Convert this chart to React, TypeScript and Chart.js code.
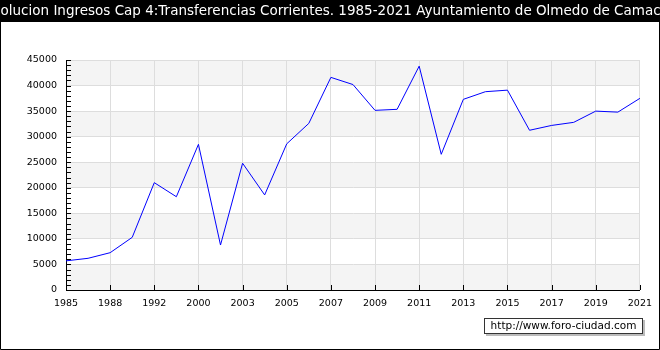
import React, { useEffect, useRef } from "react";
import { Chart, registerables } from "chart.js";

Chart.register(...registerables);

const titleText =
  "Evolucion Ingresos Cap 4:Transferencias Corrientes. 1985-2021 Ayuntamiento de Olmedo de Camaces";
const watermarkText = "http://www.foro-ciudad.com";

const years = [
  "1985", "1987", "1988", "1990", "1992", "1996", "2000", "2002", "2003",
  "2004", "2005", "2006", "2007", "2008", "2009", "2010", "2011", "2012",
  "2013", "2014", "2015", "2016", "2017", "2018", "2019", "2020", "2021",
];

const ingresos = [
  5700, 6200, 7300, 10300, 21000, 18250, 28500, 8800, 24800,
  18600, 28600, 32600, 41600, 40200, 35150, 35350, 43800, 26550,
  37300, 38800, 39100, 31250, 32200, 32800, 35000, 34800, 37500,
];

const yTicks = [0, 5000, 10000, 15000, 20000, 25000, 30000, 35000, 40000, 45000];

const FONT = "'DejaVu Sans', Verdana, sans-serif";

const decorPlugin = {
  id: "decor",
  beforeDraw(chart: any) {
    const { ctx, chartArea } = chart;
    const y = chart.scales.y;
    ctx.save();
    ctx.fillStyle = "#ffffff";
    ctx.fillRect(0, 0, chart.width, chart.height);
    // alternate bands
    for (let i = 0; i < yTicks.length - 1; i++) {
      if (i % 2 === 0) {
        const top = y.getPixelForValue(yTicks[i + 1]);
        const bot = y.getPixelForValue(yTicks[i]);
        ctx.fillStyle = "#f4f4f4";
        ctx.fillRect(chartArea.left, top, chartArea.right - chartArea.left, bot - top);
      }
    }
    ctx.restore();
  },
  afterDraw(chart: any) {
    const { ctx, chartArea } = chart;
    const x = chart.scales.x;
    const y = chart.scales.y;
    ctx.save();
    // minor ticks on y axis (inward)
    ctx.strokeStyle = "#000000";
    ctx.lineWidth = 1;
    ctx.beginPath();
    for (let v = 0; v <= 45000; v += 1000) {
      const py = Math.round(y.getPixelForValue(v)) + 0.5;
      ctx.moveTo(chartArea.left, py);
      ctx.lineTo(chartArea.left + 5, py);
    }
    // x ticks (inward)
    for (let i = 0; i < years.length; i += 2) {
      const px = Math.round(x.getPixelForValue(i)) + 0.5;
      ctx.moveTo(px, chartArea.bottom);
      ctx.lineTo(px, chartArea.bottom - 5);
    }
    ctx.stroke();

    // title bar
    ctx.fillStyle = "#000000";
    ctx.fillRect(0, 0, chart.width, 22);
    ctx.fillStyle = "#ffffff";
    ctx.font = `13.5px ${FONT}`;
    ctx.textAlign = "center";
    ctx.textBaseline = "middle";
    ctx.fillText(titleText, chart.width / 2, 11.5);

    // frame
    ctx.strokeStyle = "#000000";
    ctx.lineWidth = 1;
    ctx.beginPath();
    ctx.moveTo(0.5, 22);
    ctx.lineTo(0.5, chart.height - 0.5);
    ctx.lineTo(chart.width - 0.5, chart.height - 0.5);
    ctx.lineTo(chart.width - 0.5, 22);
    ctx.stroke();

    // watermark box
    const bx = 484, by = 318, bw = 159, bh = 16;
    ctx.fillStyle = "#bbbbbb";
    ctx.fillRect(bx + 2, by + 2, bw, bh);
    ctx.fillStyle = "#ffffff";
    ctx.fillRect(bx, by, bw, bh);
    ctx.strokeStyle = "#333333";
    ctx.strokeRect(bx + 0.5, by + 0.5, bw - 1, bh - 1);
    ctx.fillStyle = "#000000";
    ctx.font = `10.5px ${FONT}`;
    ctx.textAlign = "center";
    ctx.textBaseline = "middle";
    ctx.fillText(watermarkText, bx + bw / 2, by + bh / 2 + 0.5);
    ctx.restore();
  },
};

export default function App() {
  const ref = useRef<HTMLCanvasElement | null>(null);

  useEffect(() => {
    if (!ref.current) return;
    const chart = new Chart(ref.current, {
      type: "line",
      data: {
        labels: years,
        datasets: [
          {
            data: ingresos,
            borderColor: "#0000ff",
            borderWidth: 1,
            pointRadius: 0,
            tension: 0,
            fill: false,
          },
        ],
      },
      options: {
        responsive: false,
        animation: false,
        devicePixelRatio: 1,
        layout: { padding: { left: 0, right: 20, top: 60, bottom: 0 } },
        plugins: {
          legend: { display: false },
          title: { display: false },
          tooltip: { enabled: false },
        },
        scales: {
          x: {
            type: "category",
            offset: false,
            grid: {
              color: (c: any) => (c.index % 2 === 0 ? "#dddddd" : "rgba(0,0,0,0)"),
              drawTicks: false,
              lineWidth: 1,
            },
            border: { color: "#000000", width: 1 },
            ticks: {
              autoSkip: false,
              maxRotation: 0,
              padding: 8,
              color: "#000000",
              font: { family: FONT, size: 9.5 },
              callback: (_v: any, i: number) => (i % 2 === 0 ? years[i] : ""),
            },
            afterFit: (s: any) => {
              s.height = 60;
            },
          },
          y: {
            min: 0,
            max: 45000,
            grid: { color: "#dddddd", drawTicks: false, lineWidth: 1 },
            border: { color: "#000000", width: 1 },
            ticks: {
              stepSize: 5000,
              padding: 9,
              color: "#000000",
              font: { family: FONT, size: 9.5 },
              callback: (v: any) => String(v),
            },
            afterFit: (s: any) => {
              s.width = 66;
            },
          },
        },
      },
      plugins: [decorPlugin],
    });
    return () => chart.destroy();
  }, []);

  return (
    <div style={{ position: "absolute", left: 0, top: 0, width: 660, height: 350 }}>
      <canvas ref={ref} width={660} height={350} style={{ display: "block" }} />
    </div>
  );
}
